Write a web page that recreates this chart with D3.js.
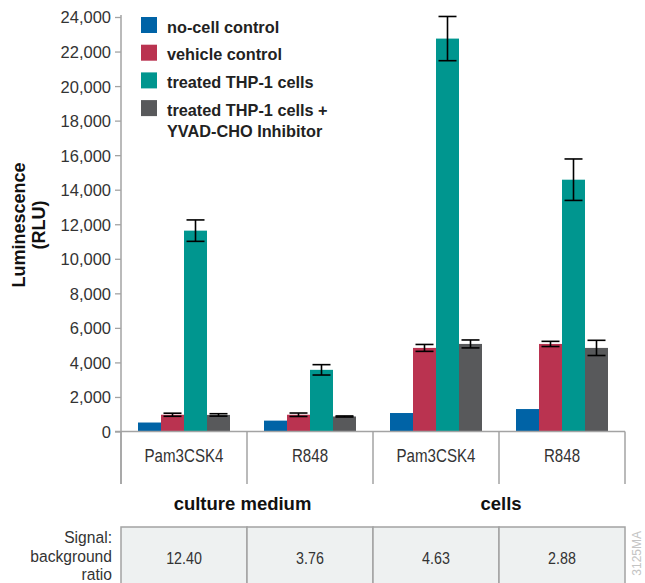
<!DOCTYPE html>
<html><head><meta charset="utf-8">
<script src="https://cdn.jsdelivr.net/npm/d3@7"></script>
<style>
html,body{margin:0;padding:0;background:#fff;}
svg text{font-family:"Liberation Sans",Arial,Helvetica,sans-serif;}
</style></head>
<body>
<svg id="chart" width="645" height="583"></svg>
<script>
// ---- data ----
const categories = ["Pam3CSK4", "R848", "Pam3CSK4", "R848"];
const groupLabels = ["culture medium", "cells"];
const seriesNames = ["no-cell control", "vehicle control", "treated THP-1 cells", "treated THP-1 cells +|YVAD-CHO Inhibitor"];
const noCellControl = [520, 630, 1070, 1300];
const vehicleControl = [970, 970, 4840, 5070];
const treatedCells = [11630, 3570, 22750, 14580];
const treatedInhibitor = [960, 870, 5070, 4840];
const noCellErr = [0, 0, 0, 0];
const vehicleErr = [90, 100, 200, 150];
const treatedErr = [620, 300, 1280, 1200];
const inhibitorErr = [70, 30, 230, 440];
const ratios = ["12.40", "3.76", "4.63", "2.88"];
const rowLabel = ["Signal:", "background", "ratio"];
const yTicks = [0, 2000, 4000, 6000, 8000, 10000, 12000, 14000, 16000, 18000, 20000, 22000, 24000];
const colors = ["#0063a6", "#ba3350", "#00968f", "#58595b"];

const seriesValues = [noCellControl, vehicleControl, treatedCells, treatedInhibitor];
const seriesErrs = [noCellErr, vehicleErr, treatedErr, inhibitorErr];

const svg = d3.select("#chart");
const pLeft = 121, pRight = 625, pTop = 17, pBase = 431.5, boxBottom = 484;
const axisColor = "#a3a3a3";
const textColor = "#333";

function stext(parent, x, yy, str, size, sx, anchor, weight, fill) {
  return parent.append("text")
    .attr("transform", `translate(${x},${yy}) scale(${sx},1)`)
    .attr("text-anchor", anchor).attr("fill", fill)
    .style("font-size", size + "px").style("font-weight", weight).text(str);
}

const y = d3.scaleLinear().domain([0, 24000]).range([pBase, pTop]);
const x0 = d3.scaleBand().domain(d3.range(categories.length)).range([pLeft, pRight]).paddingInner(0).paddingOuter(0);
const x1 = d3.scaleBand().domain(d3.range(seriesNames.length)).range([17, 109]).padding(0);

// y axis
const yAxis = d3.axisLeft(y).tickValues(yTicks).tickFormat(d3.format(",")).tickSize(6).tickPadding(4);
const gy = svg.append("g").attr("transform", `translate(${pLeft},0)`).call(yAxis);
gy.select(".domain").remove();
gy.selectAll(".tick line").attr("stroke", axisColor).attr("stroke-width", 1.3);
gy.selectAll(".tick text").attr("fill", textColor).style("font-size", "16.5px")
  .style("font-family", "'Liberation Sans',Arial,sans-serif").attr("dy", "0.36em");
svg.append("line").attr("x1", pLeft).attr("x2", pLeft).attr("y1", pTop - 2).attr("y2", boxBottom)
  .attr("stroke", axisColor).attr("stroke-width", 1.5);

// y title
stext(svg, 0, 0, "Luminescence", 18, 1, "middle", "bold", "#111").attr("transform", "translate(25,225) rotate(-90)");
stext(svg, 0, 0, "(RLU)", 18, 1, "middle", "bold", "#111").attr("transform", "translate(45,225) rotate(-90)");

// bars
const gBars = svg.append("g");
categories.forEach((c, i) => {
  const g = gBars.append("g").attr("transform", `translate(${x0(i)},0)`);
  seriesValues.forEach((vals, s) => {
    g.append("rect").attr("x", x1(s)).attr("width", x1.bandwidth())
      .attr("y", y(vals[i])).attr("height", y(0) - y(vals[i])).attr("fill", colors[s]);
  });
  seriesValues.forEach((vals, s) => {
    const e = seriesErrs[s][i];
    if (!e) return;
    const cx = x1(s) + x1.bandwidth() / 2;
    const hw = 9;
    g.append("line").attr("x1", cx).attr("x2", cx).attr("y1", y(vals[i] + e)).attr("y2", y(vals[i] - e))
      .attr("stroke", "#000").attr("stroke-width", 1.6);
    [vals[i] + e, vals[i] - e].forEach(v => {
      g.append("line").attr("x1", cx - hw).attr("x2", cx + hw).attr("y1", y(v)).attr("y2", y(v))
        .attr("stroke", "#000").attr("stroke-width", 1.6);
    });
  });
});

// x axis baseline and category boxes
svg.append("line").attr("x1", pLeft - 6).attr("x2", pRight).attr("y1", pBase).attr("y2", pBase)
  .attr("stroke", axisColor).attr("stroke-width", 1.5);
d3.range(categories.length + 1).forEach(i => {
  const xx = i < categories.length ? x0(i) : pRight;
  svg.append("line").attr("x1", xx).attr("x2", xx).attr("y1", pBase).attr("y2", boxBottom)
    .attr("stroke", axisColor).attr("stroke-width", 1.5);
});
categories.forEach((c, i) => {
  stext(svg, x0(i) + x0.bandwidth() / 2, 462, c, 18, 0.84, "middle", "normal", textColor);
});

// group labels
groupLabels.forEach((g, k) => {
  const cx = x0(k * 2 + 1);
  stext(svg, cx - 4.5 + k * 6.5, 510, g, 18.5, 1, "middle", "bold", "#111");
});

// ratio table
const tTop = 527;
categories.forEach((c, i) => {
  svg.append("rect").attr("x", x0(i)).attr("y", tTop).attr("width", x0.bandwidth()).attr("height", 70)
    .attr("fill", "#eef1f1").attr("stroke", axisColor).attr("stroke-width", 1.5);
  stext(svg, x0(i) + x0.bandwidth() / 2, 563.5, ratios[i], 17, 0.84, "middle", "normal", textColor);
});
rowLabel.forEach((t, k) => {
  stext(svg, 112, 543 + k * 18.5, t, 17, 0.92, "end", "normal", textColor);
});

// legend
const lg = svg.append("g");
seriesNames.forEach((n, s) => {
  const yy = 17 + s * 27.7;
  lg.append("rect").attr("x", 141).attr("y", yy).attr("width", 16).attr("height", 16).attr("fill", colors[s]);
  n.split("|").forEach((line, k) => {
    stext(lg, 167, yy + 15.5 + k * 21.5, line, 16.3, 1, "start", "bold", "#222");
  });
});

// figure code
svg.append("text").attr("transform", "translate(641,531) rotate(-90)").attr("text-anchor", "end")
  .attr("fill", "#c4c4c4").style("font-size", "12px").text("3125MA");
</script>
</body></html>
